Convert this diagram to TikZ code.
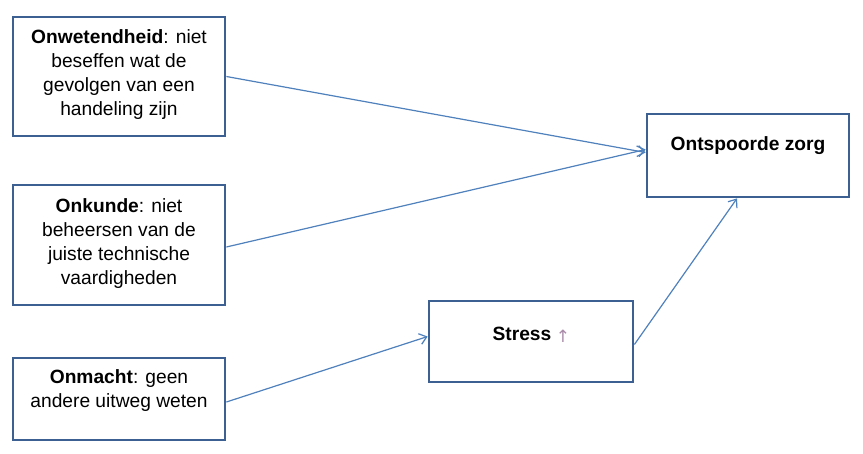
\documentclass[tikz,border=0pt]{standalone}
\usepackage{fontspec}
\setmainfont{Liberation Sans}
\newfontfamily\symfont{DejaVu Sans}
\usetikzlibrary{arrows.meta,calc}
\definecolor{boxblue}{RGB}{60,96,145}
\definecolor{arrowblue}{RGB}{79,129,189}
\definecolor{uparrow}{RGB}{170,140,170}
\begin{document}
\begin{tikzpicture}[x=1pt,y=-1pt,
  box/.style={draw=boxblue,line width=2.8pt,fill=white,inner sep=0pt},
  txt/.style={align=center,font=\fontsize{19.2}{24}\selectfont,inner sep=0pt},
  conn/.style={draw=arrowblue,line width=1.2pt,-{Straight Barb[length=7pt,width=11pt,line width=1.2pt]}}]
\useasboundingbox (0,0) rectangle (863,453);
\fill[white] (0,0) rectangle (863,453);
\node[box,minimum width=212pt,minimum height=119pt] (b1) at (119,76.5) {};
\node[box,minimum width=212pt,minimum height=120pt] (b2) at (119,245) {};
\node[box,minimum width=212pt,minimum height=82pt] (b3) at (119,399) {};
\node[box,minimum width=204pt,minimum height=81pt] (st) at (531,341.5) {};
\node[box,minimum width=202pt,minimum height=83pt] (oz) at (748,155.5) {};
\node[txt] (t1) at (119,75) {\textbf{Onwetendheid}: niet\\beseffen wat de\\gevolgen van een\\handeling zijn};
\node[txt] (t2) at (119,244) {\textbf{Onkunde}: niet\\beheersen van de\\juiste technische\\vaardigheden};
\node[txt] (t3) at (119,391) {\textbf{Onmacht}: geen\\andere uitweg weten};
\node[txt] (t4) at (522,334) {\textbf{Stress}};
\node[txt,text=uparrow,font=\symfont\fontsize{17}{17}\selectfont] (t5) at (563,336) {↑};
\node[txt] (t6) at (748,146) {\textbf{Ontspoorde zorg}};
\coordinate (e1) at ($(oz.west)+(0,-3)$);
\coordinate (e2) at ($(oz.west)+(0,-6)$);
\coordinate (s2) at ($(b2.east)+(0,2)$);
\coordinate (s3) at ($(b3.east)+(0,3)$);
\coordinate (e3) at ($(st.west)+(0,-5)$);
\coordinate (s4) at ($(st.east)+(0,3)$);
\coordinate (e4) at ($(oz.south)+(-11,0)$);
\draw[conn] (b1.east) -- (e1);
\draw[conn] (s2) -- (e2);
\draw[conn] (s3) -- (e3);
\draw[conn] (s4) -- (e4);
\end{tikzpicture}
\end{document}
